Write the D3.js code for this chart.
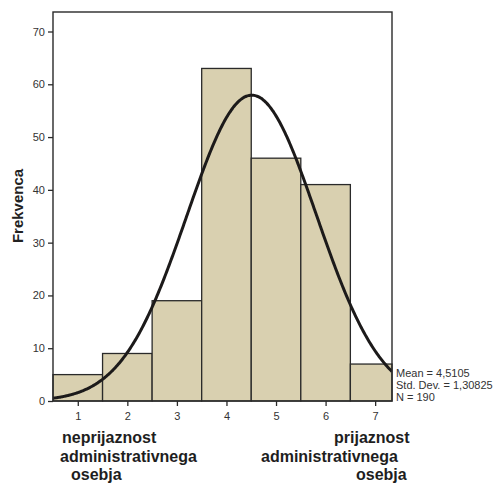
<!DOCTYPE html>
<html><head><meta charset="utf-8">
<script src="https://cdn.jsdelivr.net/npm/d3@7"></script>
<style>body{margin:0;background:#fff}svg{display:block}</style>
</head><body>
<script>
const categories = [1, 2, 3, 4, 5, 6, 7];
const counts = [5, 9, 19, 63, 46, 41, 7];
const yTicks = [0, 10, 20, 30, 40, 50, 60, 70];
const stats = ["Mean = 4,5105", "Std. Dev. = 1,30825", "N = 190"];
const mean = 4.5105, sd = 1.30825, n = 190;
const leftLabel = ["neprijaznost", "administrativnega", "osebja"];
const rightLabel = ["prijaznost", "administrativnega", "osebja"];

const W = 501, H = 484;
const L = 53, R = 392, T = 12, B = 401;
const svg = d3.select("body").append("svg").attr("width", W).attr("height", H);
const x = d3.scaleLinear().domain([0.5, 7.34]).range([L, R]);
const y = d3.scaleLinear().domain([0, 70]).range([B, 31.5]);

const g = svg.append("g");
g.selectAll("rect.bar").data(categories).join("rect")
  .attr("x", d => x(d - 0.5))
  .attr("width", d => Math.min(x(d + 0.5), R) - x(d - 0.5))
  .attr("y", (d, i) => y(counts[i]))
  .attr("height", (d, i) => y(0) - y(counts[i]))
  .attr("fill", "#d9d0b0").attr("stroke", "#2a2a2a").attr("stroke-width", 1.3);

const pts = d3.range(0.5, 7.34 + 1e-9, 0.02).map(v => [v, n * Math.exp(-0.5 * ((v - mean) / sd) ** 2) / (sd * Math.sqrt(2 * Math.PI))]);
svg.append("defs").append("clipPath").attr("id", "c").append("rect").attr("x", L).attr("y", T).attr("width", R - L).attr("height", B - T);
g.append("path").datum(pts).attr("clip-path", "url(#c)")
  .attr("d", d3.line().x(d => x(d[0])).y(d => y(d[1])).curve(d3.curveBasis))
  .attr("fill", "none").attr("stroke", "#1c1a1a").attr("stroke-width", 3);

svg.append("rect").attr("x", L).attr("y", T).attr("width", R - L).attr("height", B - T)
  .attr("fill", "none").attr("stroke", "#2a2a2a").attr("stroke-width", 1.4);

const f = "Liberation Sans, Arial, sans-serif";
const yAxis = d3.axisLeft(y).tickValues(yTicks).tickFormat(d3.format("d")).tickSize(5).tickPadding(3);
const ya = svg.append("g").attr("transform", `translate(${L},0)`).call(yAxis);
ya.select(".domain").remove();
const xAxis = d3.axisBottom(x).tickValues(categories).tickFormat(d3.format("d")).tickSize(5).tickPadding(6);
const xa = svg.append("g").attr("transform", `translate(0,${B})`).call(xAxis);
xa.select(".domain").remove();
svg.selectAll(".tick line").attr("stroke", "#2a2a2a").attr("stroke-width", 1.3);
svg.selectAll(".tick text").attr("font-family", f).attr("font-size", 11).attr("fill", "#333");

svg.append("text").attr("transform", "translate(23,206) rotate(-90)")
  .attr("text-anchor", "middle").attr("font-family", f)
  .attr("font-weight", "bold").attr("font-size", 15).attr("fill", "#222").text("Frekvenca");

svg.append("g").selectAll("text").data(stats).join("text")
  .attr("x", 396).attr("y", (d, i) => 377 + i * 12)
  .attr("font-family", f).attr("font-size", 11).attr("fill", "#333")
  .text(d => d);

const lx = [62, 60, 71], rx = [334, 261, 356], by = [443, 462, 480];
svg.append("g").selectAll("text").data(leftLabel).join("text")
  .attr("x", (d, i) => lx[i]).attr("y", (d, i) => by[i])
  .attr("font-family", f).attr("font-weight", "bold").attr("font-size", 16).attr("fill", "#1e1e1e").text(d => d);
svg.append("g").selectAll("text").data(rightLabel).join("text")
  .attr("x", (d, i) => rx[i]).attr("y", (d, i) => by[i])
  .attr("font-family", f).attr("font-weight", "bold").attr("font-size", 16).attr("fill", "#1e1e1e").text(d => d);
</script>
</body></html>
